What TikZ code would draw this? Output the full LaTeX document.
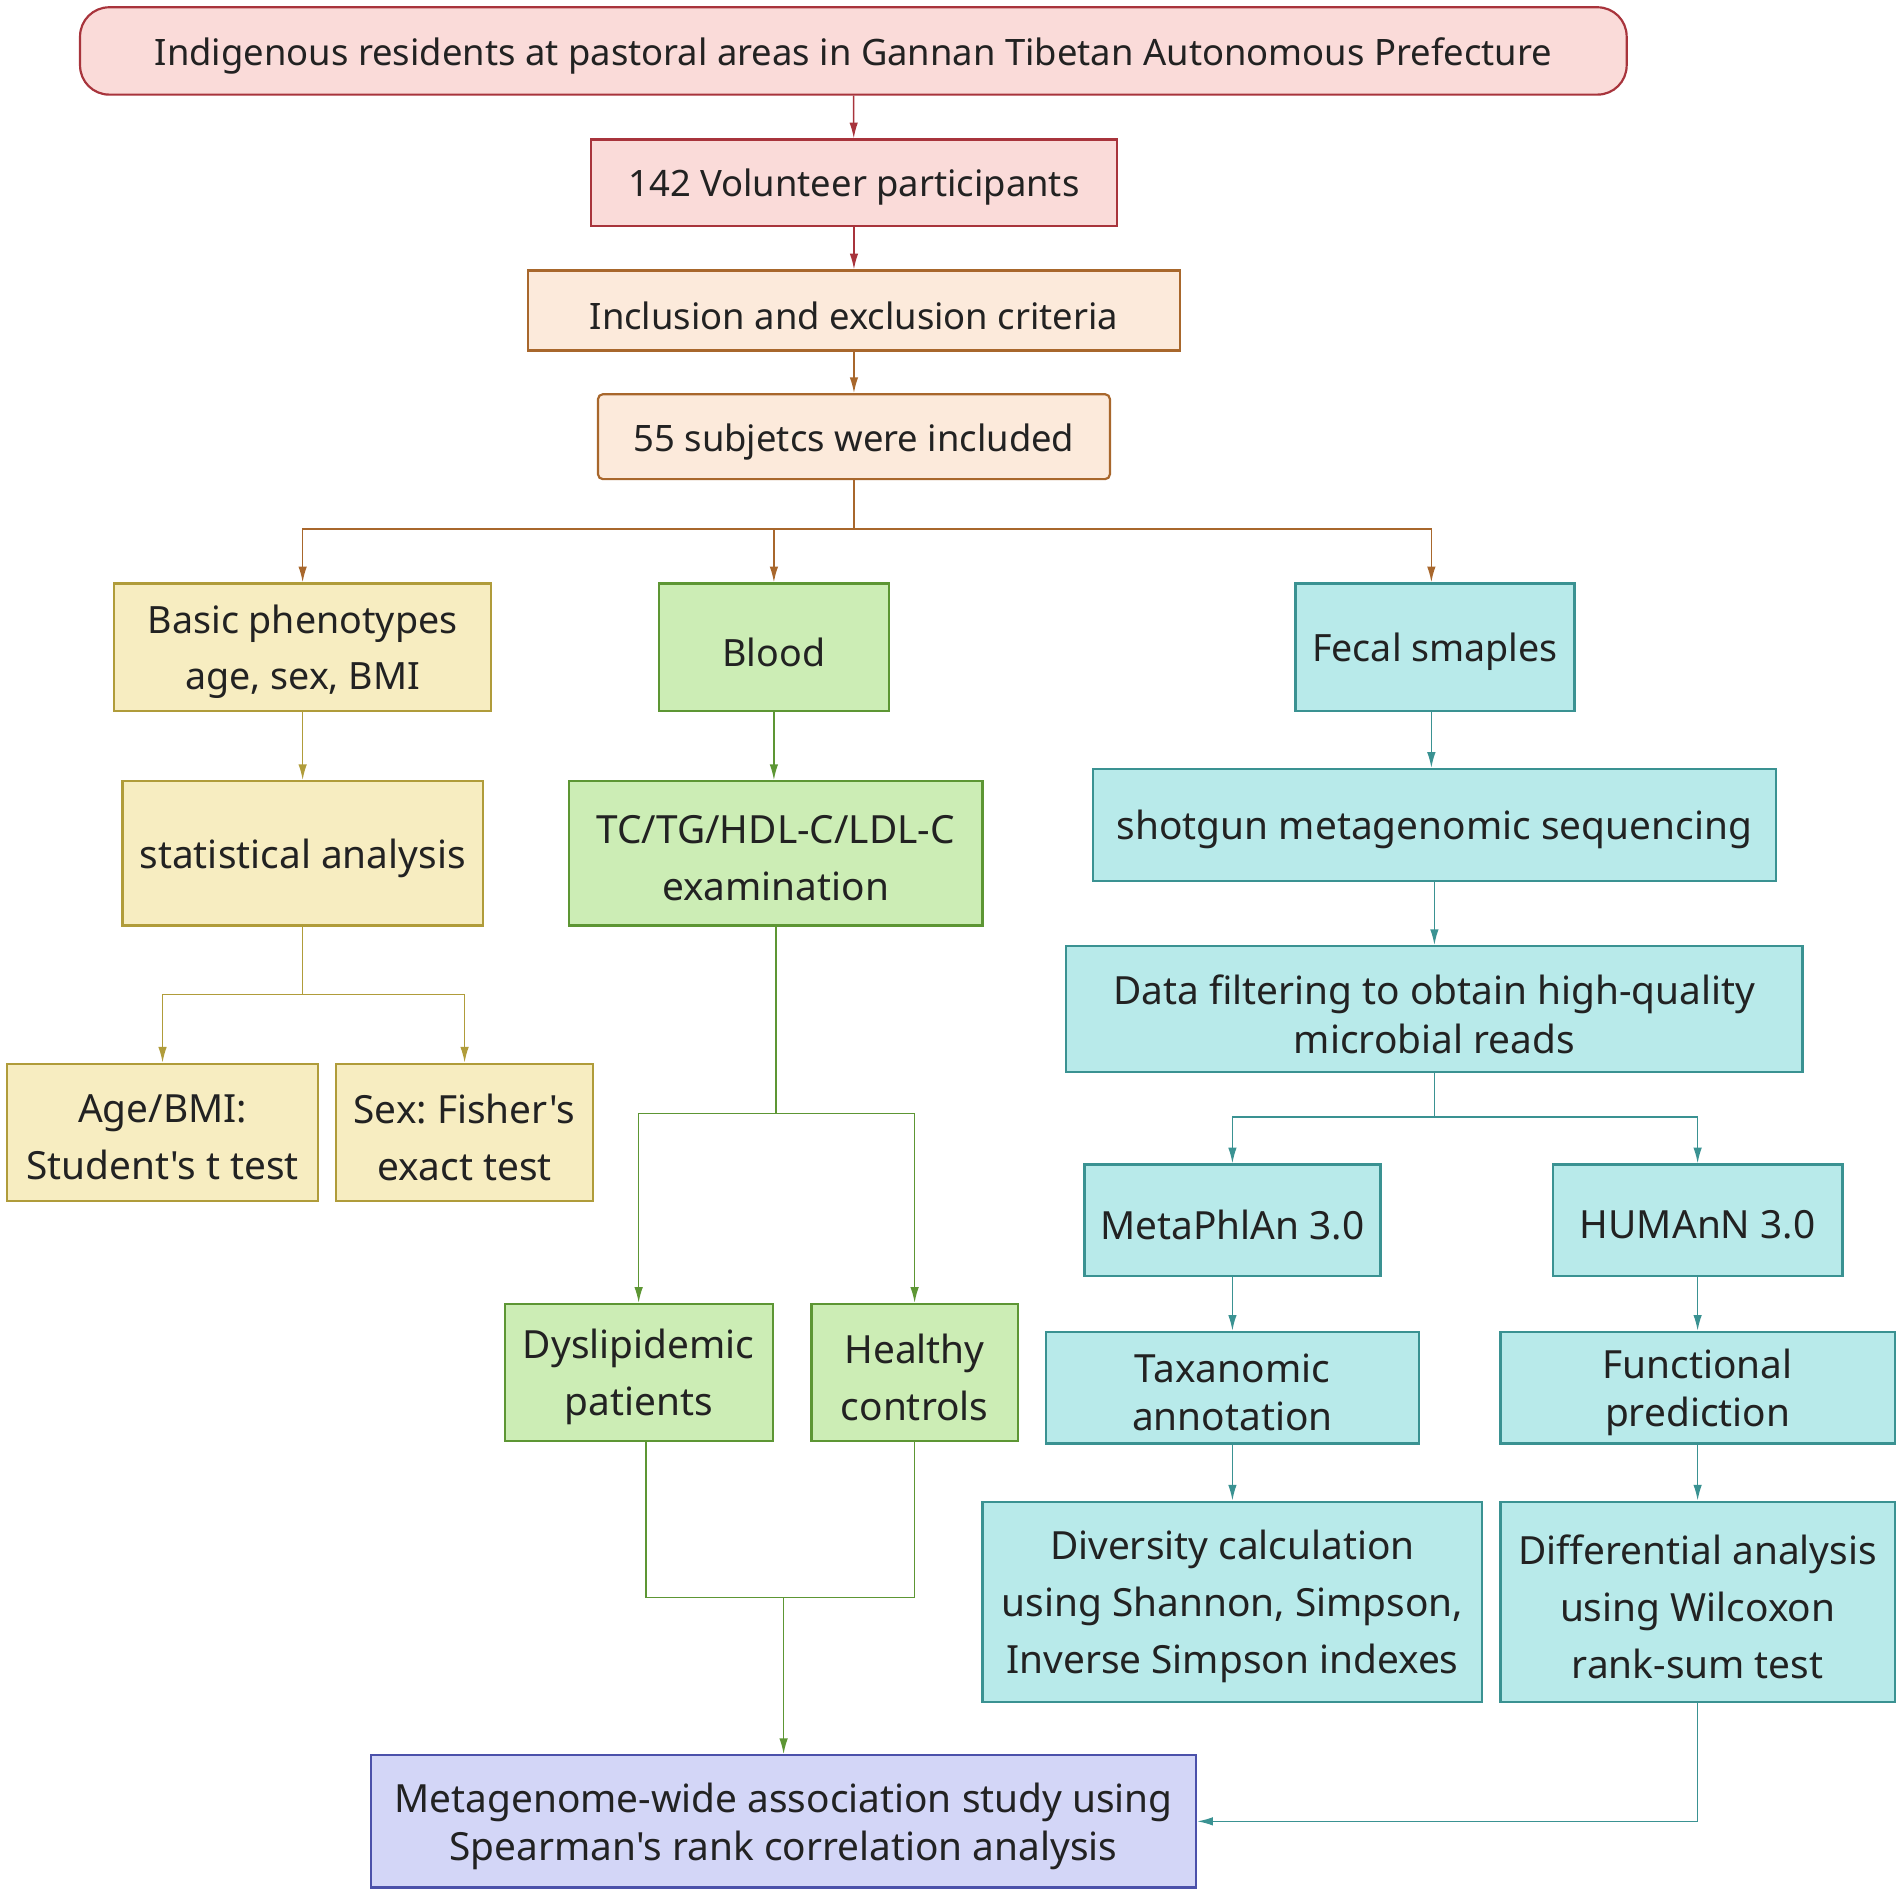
\documentclass[tikz,border=0pt]{standalone}
\usepackage{fontspec}
\setmainfont{Noto Sans}[Ligatures=TeXOff]
\usetikzlibrary{arrows.meta}
\frenchspacing
\definecolor{pinkf}{HTML}{FADBD9}
\definecolor{pinkd}{HTML}{A8343C}
\definecolor{peachf}{HTML}{FCEADB}
\definecolor{peachd}{HTML}{A8672C}
\definecolor{yelf}{HTML}{F7EDC1}
\definecolor{yeld}{HTML}{B09C3A}
\definecolor{grnf}{HTML}{CCEDB5}
\definecolor{grnd}{HTML}{5D9634}
\definecolor{cyf}{HTML}{B8EAEA}
\definecolor{cyd}{HTML}{3A9292}
\definecolor{lavf}{HTML}{D3D6F7}
\definecolor{lavd}{HTML}{4B51AA}
\definecolor{txt}{HTML}{222222}
\newcommand{\mybox}[7]{\node[#6,minimum width={(#4-#2)*1pt},minimum height={(#5-#3)*1pt}] (#1) at ({(#2+#4)/2},{(#3+#5)/2}) {};
  \node[lbl,#6,draw=none,fill=none] (#1-t) at ([yshift=-4pt]#1.center) {#7};}
\begin{document}
\begin{tikzpicture}[x=1pt,y=-1pt,
  box/.style={draw,line width=1.8pt,inner sep=0pt,align=center,text=txt},
  lbl/.style={inner sep=0pt},
  pinkbox/.style={box,fill=pinkf,draw=pinkd},
  peachbox/.style={box,fill=peachf,draw=peachd},
  yelbox/.style={box,fill=yelf,draw=yeld},
  grnbox/.style={box,fill=grnf,draw=grnd},
  cybox/.style={box,fill=cyf,draw=cyd},
  lavbox/.style={box,fill=lavf,draw=lavd},
  fs/.style={font=\fontsize{30}{40}\selectfont},
  fm/.style={font=\fontsize{31}{46}\selectfont},
  fl/.style={font=\fontsize{32}{47}\selectfont},
  fk/.style={font=\fontsize{32}{40}\selectfont},
  arr/.style={-{Latex[length=13pt,width=7pt]},line width=1.3pt},
  ln/.style={line width=1.3pt}]
\useasboundingbox (0,0) rectangle (1568,1563);

\mybox{top}{66}{6}{1341}{78}{pinkbox,fs,rounded corners=24pt}{Indigenous residents at pastoral areas in Gannan Tibetan Autonomous Prefecture}
\mybox{vol}{487}{115}{921}{186}{pinkbox,fs}{142 Volunteer participants}
\mybox{inc}{435}{223}{973}{289}{peachbox,fs}{Inclusion and exclusion criteria}
\mybox{sub}{493}{325}{915}{395}{peachbox,fs,rounded corners=4pt}{55 subjetcs were included}

\mybox{basic}{94}{481}{405}{586}{yelbox,fm}{Basic phenotypes\\age, sex, BMI}
\mybox{blood}{543}{481}{733}{586}{grnbox,fm}{Blood}
\mybox{fecal}{1068}{481}{1298}{586}{cybox,fm}{Fecal smaples}

\mybox{stat}{101}{644}{398}{763}{yelbox,fl}{statistical analysis}
\mybox{tc}{469}{644}{810}{763}{grnbox,fl}{TC/TG/HDL-C/LDL-C\\examination}
\mybox{shot}{901}{634}{1464}{726}{cybox,fl}{shotgun metagenomic sequencing}

\mybox{age}{6}{877}{262}{990}{yelbox,fl}{Age/BMI:\\Student's t test}
\mybox{sex}{277}{877}{489}{990}{yelbox,fl}{Sex: Fisher's\\exact test}

\mybox{data}{879}{780}{1486}{884}{cybox,fk}{Data filtering to obtain high-quality\\microbial reads}
\mybox{meta}{894}{960}{1138}{1052}{cybox,fl}{MetaPhlAn 3.0}
\mybox{hum}{1280}{960}{1519}{1052}{cybox,fl}{HUMAnN 3.0}

\mybox{dys}{416}{1075}{637}{1188}{grnbox,fl}{Dyslipidemic\\patients}
\mybox{hea}{669}{1075}{839}{1188}{grnbox,fl}{Healthy\\controls}
\mybox{tax}{862}{1098}{1170}{1190}{cybox,fk}{Taxanomic\\annotation}
\mybox{fun}{1237}{1098}{1562}{1190}{cybox,fk}{Functional\\prediction}

\mybox{div}{810}{1238}{1222}{1403}{cybox,fl}{Diversity calculation\\using Shannon, Simpson,\\Inverse Simpson indexes}
\mybox{dif}{1237}{1238}{1562}{1403}{cybox,fl}{Differential analysis\\using Wilcoxon\\rank-sum test}

\mybox{mgw}{306}{1447}{986}{1556}{lavbox,fk}{Metagenome-wide association study using\\Spearman's rank correlation analysis}

% connectors
\draw[arr,pinkd] (top) -- (vol);
\draw[arr,pinkd] (vol) -- (inc);
\draw[arr,peachd] (inc) -- (sub);
\coordinate (j1) at (704,436);
\draw[ln,peachd] (sub.south) -- (j1);
\draw[arr,peachd] (j1) -| (basic.north);
\draw[arr,peachd] (j1) -| (blood.north);
\draw[arr,peachd] (j1) -| ([xshift=-3pt]fecal.north);

\draw[arr,yeld] (basic) -- (stat);
\draw[arr,grnd] (blood) -- (blood |- tc.north);
\draw[arr,cyd] ([xshift=-3pt]fecal.south) -- ([xshift=-3pt]fecal.south |- shot.north);

\coordinate (j2) at (249.5,820);
\draw[ln,yeld] (stat.south) -- (j2);
\draw[arr,yeld] (j2) -| (age.north);
\draw[arr,yeld] (j2) -| (sex.north);

\coordinate (j3) at (639.5,918);
\draw[ln,grnd] (tc.south) -- (j3);
\draw[arr,grnd] (j3) -| (dys.north);
\draw[arr,grnd] (j3) -| (hea.north);

\draw[arr,cyd] (shot) -- (shot |- data.north);
\coordinate (j4) at (1182.5,921);
\draw[ln,cyd] (data.south) -- (j4);
\draw[arr,cyd] (j4) -| (meta.north);
\draw[arr,cyd] (j4) -| (hum.north);

\draw[arr,cyd] (meta) -- (meta |- tax.north);
\draw[arr,cyd] (hum) -- (hum |- fun.north);
\draw[arr,cyd] (tax) -- (tax |- div.north);
\draw[arr,cyd] (fun) -- (fun |- dif.north);

\coordinate (j5) at (646,1317);
\draw[ln,grnd] ([xshift=6pt]dys.south) |- (j5);
\draw[ln,grnd] (hea.south) |- (j5);
\draw[arr,grnd] (j5) -- (j5 |- mgw.north);

\draw[arr,cyd] (dif.south) |- (mgw.east);
\end{tikzpicture}
\end{document}
